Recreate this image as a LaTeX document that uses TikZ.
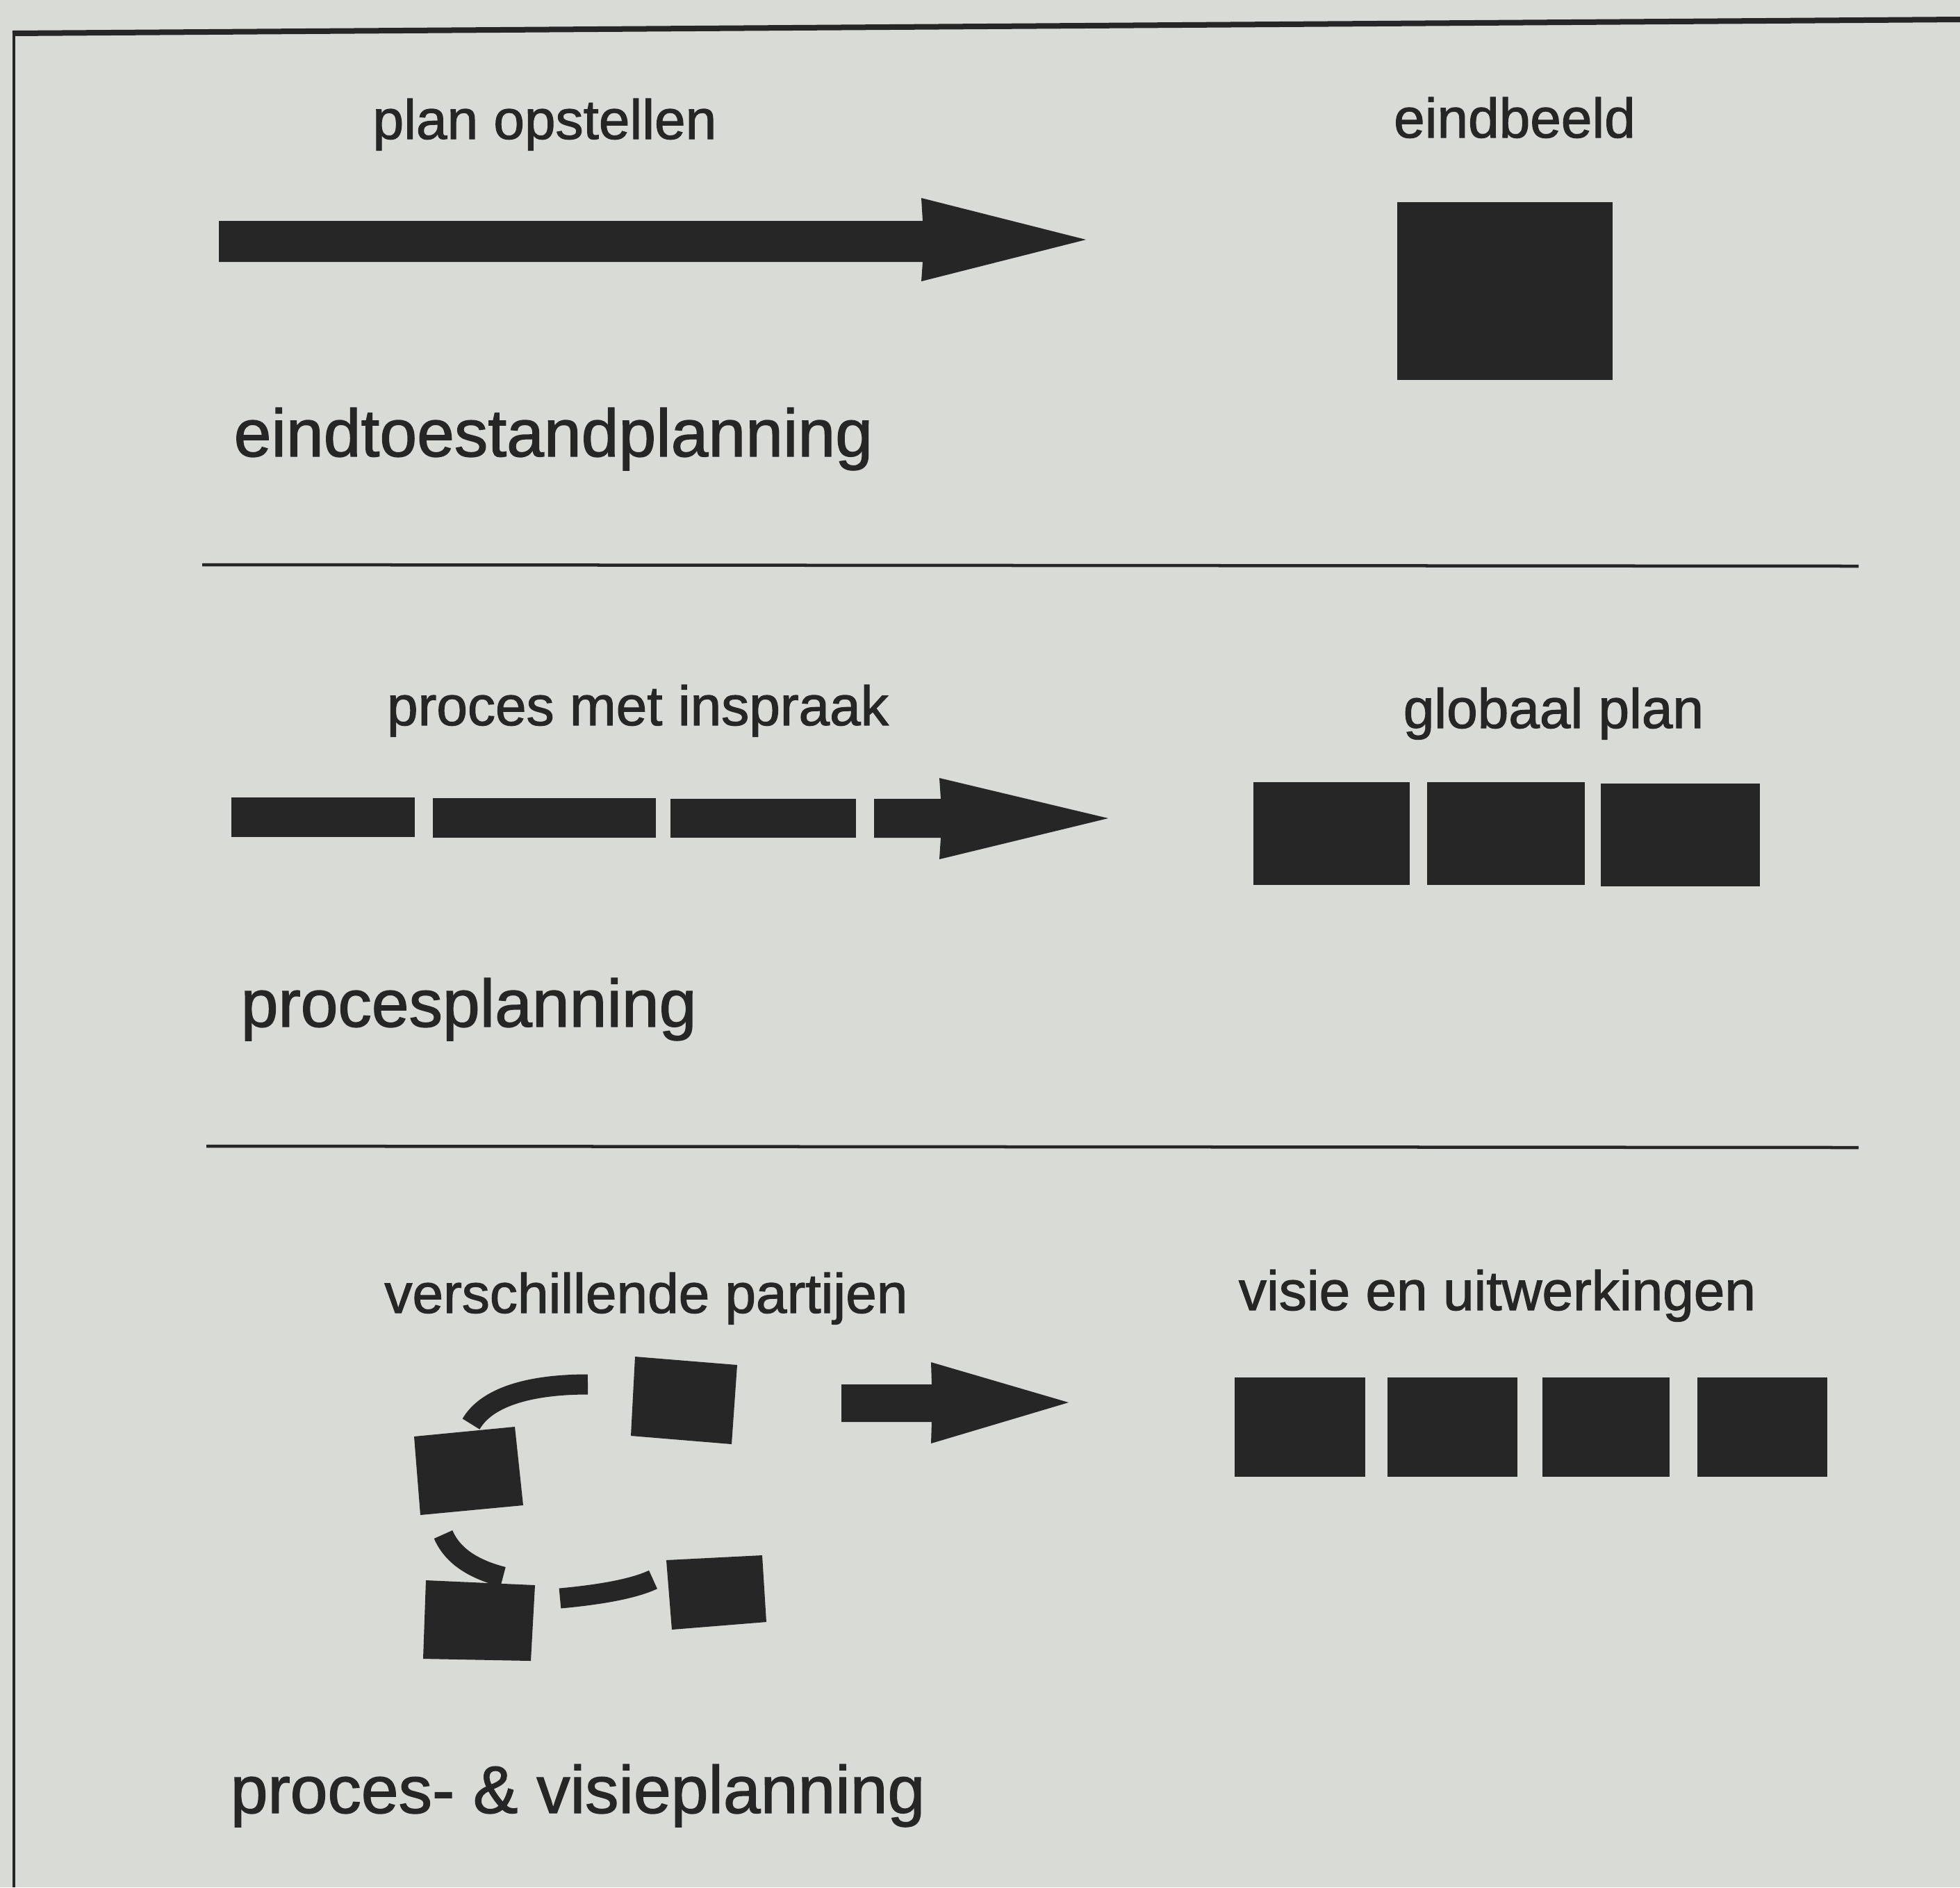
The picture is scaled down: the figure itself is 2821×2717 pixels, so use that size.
\documentclass[tikz,border=0pt]{standalone}
\usepackage{fontspec}
\setmainfont[FakeBold=1.4]{Liberation Sans}
\definecolor{paper}{HTML}{D9DBD6}
\definecolor{ink}{HTML}{262626}
\begin{document}
\begin{tikzpicture}[x=0.01cm,y=-0.01cm,
  lbl/.style={font=\fontsize{22.8}{27}\selectfont, text=ink, inner sep=0pt, anchor=base},
  ttl/.style={font=\fontsize{27.5}{33}\selectfont, text=ink, inner sep=0pt, anchor=base west},
  blk/.style={fill=ink},
  curvelink/.style={draw=ink, line width=0.29cm, line cap=butt},
  rule/.style={draw=ink, line width=0.045cm}]
\useasboundingbox (0,0) rectangle (2821,2717);
\fill[paper] (0,0) rectangle (2821,2717);
% frame
\draw[ink, line width=0.08cm] (18,48) -- (2821,28);
\draw[ink, line width=0.04cm] (20,46) -- (20,2717);
% separators
\draw[rule] (291,813) -- (2675,815);
\draw[rule] (297,1650) -- (2675,1652);

% ---------- section 1 ----------
\node[lbl] (plan) at (784,200) {plan opstellen};
\node[lbl] (eind) at (2180,198) {eindbeeld};
\node[ttl] (t1) at (336,657) {eindtoestandplanning};
\fill[blk] (315,318) -- (1328,318) -- (1326,285) -- (1563,345) -- (1326,405) -- (1328,377) -- (315,377) -- cycle;
\fill[blk] (2011,291) rectangle (2321,547);

% ---------- section 2 ----------
\node[lbl] (proc) at (918,1044) {proces met inspraak};
\node[lbl] (glob) at (2236,1048) {globaal plan};
\node[ttl] (t2) at (346,1478) {procesplanning};
\fill[blk] (333,1148) rectangle (597,1205);
\fill[blk] (623,1149) rectangle (944,1206);
\fill[blk] (965,1150) rectangle (1232,1206);
\fill[blk] (1258,1150) -- (1354,1150) -- (1352,1120) -- (1595,1178) -- (1352,1237) -- (1354,1206) -- (1258,1206) -- cycle;
\fill[blk] (1804,1126) rectangle (2029,1274);
\fill[blk] (2054,1126) rectangle (2281,1274);
\fill[blk] (2304,1128) rectangle (2533,1276);

% ---------- section 3 ----------
\node[lbl] (vers) at (930,1890) {verschillende partijen};
\node[lbl] (visie) at (2155,1886) {visie en uitwerkingen};
\node[ttl] (t3) at (331,2610) {proces- \& visieplanning};
% scattered parties
\fill[blk] (914,1953) -- (1061,1965) -- (1053,2079) -- (908,2067) -- cycle;
\fill[blk] (596,2068) -- (741,2054) -- (753,2167) -- (605,2181) -- cycle;
\fill[blk] (613,2275) -- (770,2282) -- (764,2391) -- (609,2388) -- cycle;
\fill[blk] (959,2246) -- (1097,2239) -- (1103,2335) -- (967,2346) -- cycle;
\draw[curvelink] (678,2050) .. controls (700,2012) and (760,1993) .. (846,1993);
\draw[curvelink] (638,2209) .. controls (652,2242) and (685,2260) .. (724,2270);
\draw[curvelink] (806,2301) .. controls (860,2296) and (910,2288) .. (940,2274);
% arrow
\fill[blk] (1211,1993) -- (1341,1993) -- (1340,1961) -- (1538,2019) -- (1340,2078) -- (1341,2047) -- (1211,2047) -- cycle;
% vision & elaborations
\fill[blk] (1777,1983) rectangle (1965,2126);
\fill[blk] (1997,1983) rectangle (2184,2126);
\fill[blk] (2220,1983) rectangle (2403,2126);
\fill[blk] (2443,1983) rectangle (2630,2126);
\end{tikzpicture}
\end{document}
